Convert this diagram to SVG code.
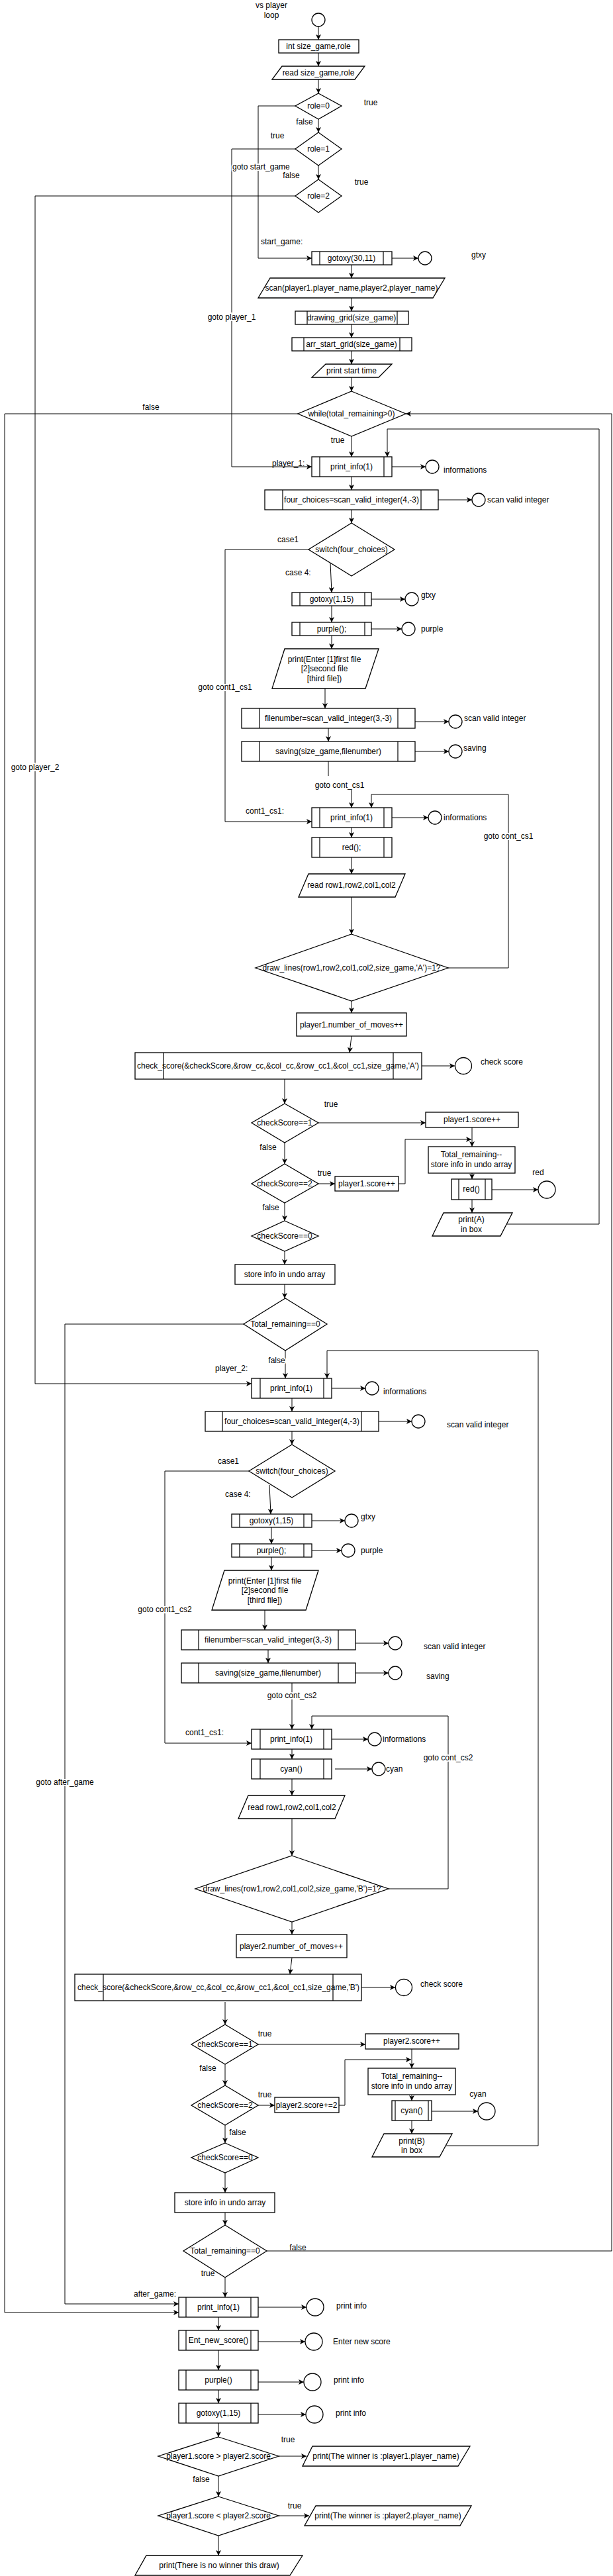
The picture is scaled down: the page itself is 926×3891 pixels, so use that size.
<svg xmlns="http://www.w3.org/2000/svg" width="926" height="3891" viewBox="0 0 926 3891">
<style>
.s{fill:#fff;stroke:#000;stroke-width:1.3}
.i{fill:none;stroke:#000;stroke-width:1.2}
.l{fill:none;stroke:#000;stroke-width:1}
.a{marker-end:url(#arr)}
text{font-family:"Liberation Sans",Arial,sans-serif;font-size:12px;fill:#000;dominant-baseline:central}
.c{text-anchor:middle}
.h{paint-order:stroke;stroke:#fff;stroke-width:4px}
</style>
<defs>
<marker id="arr" markerUnits="userSpaceOnUse" markerWidth="9" markerHeight="8" refX="8" refY="4" orient="auto">
<path d="M0,0 L8,4 L0,8 L2,4 Z" fill="#000"/>
</marker>
</defs>
<rect width="926" height="3891" fill="#fff"/>
<g id="connectors">
<path class="l a" d="M481,40 V60"/>
<path class="l a" d="M481,80 V100"/>
<path class="l a" d="M481,120 V141"/>
<path class="l a" d="M481,180 V200"/>
<path class="l a" d="M481,250 V271"/>
<path class="l a" d="M446,160 H390 V390 H471"/>
<path class="l a" d="M446,225 H350 V705 H471"/>
<path class="l a" d="M446,296 H53 V2090 H380"/>
<path class="l a" d="M592,390 H632"/>
<path class="l a" d="M531,400 V420"/>
<path class="l a" d="M531,450 V470"/>
<path class="l a" d="M531,490 V510"/>
<path class="l a" d="M531,530 V550"/>
<path class="l a" d="M531,570 V591"/>
<path class="l a" d="M450,625 H7 V3493 H270"/>
<path class="l a" d="M403,3400 H924 V625 H613"/>
<path class="l a" d="M531,659 V690"/>
<path class="l a" d="M765,1849 H905 V648 H585 V690"/>
<path class="l a" d="M592,705 H643"/>
<path class="l a" d="M531,720 V740"/>
<path class="l a" d="M662,755 H713"/>
<path class="l a" d="M531,770 V790"/>
<path class="l a" d="M466,830 H340 V1241 H471"/>
<path class="l a" d="M499,850 L501,895"/>
<path class="l a" d="M561,905 H612"/>
<path class="l a" d="M501,915 V940"/>
<path class="l a" d="M561,950 H607"/>
<path class="l a" d="M501,960 V980"/>
<path class="l a" d="M491,1040 V1070"/>
<path class="l a" d="M627,1090 H678"/>
<path class="l a" d="M496,1100 V1120"/>
<path class="l a" d="M627,1135 H678"/>
<path class="l" d="M496,1150 V1172"/>
<path class="l a" d="M531,1193 V1220"/>
<path class="l a" d="M677,1462 H768 V1200 H561 V1220"/>
<path class="l a" d="M592,1235 H647"/>
<path class="l a" d="M531,1250 V1265"/>
<path class="l a" d="M531,1295 V1320"/>
<path class="l a" d="M531,1355 V1411"/>
<path class="l a" d="M531,1512 V1530"/>
<path class="l a" d="M531,1565 L528,1590"/>
<path class="l a" d="M637,1610 H687"/>
<path class="l a" d="M430,1630 V1667"/>
<path class="l a" d="M481,1696 H643"/>
<path class="l a" d="M430,1726 V1758"/>
<path class="l a" d="M481,1788 H506"/>
<path class="l a" d="M602,1788 H612 V1721 H712"/>
<path class="l a" d="M713,1703 V1732"/>
<path class="l a" d="M713,1772 V1781"/>
<path class="l a" d="M743,1797 H813"/>
<path class="l a" d="M713,1812 V1832"/>
<path class="l a" d="M430,1817 V1844"/>
<path class="l a" d="M430,1890 V1910"/>
<path class="l a" d="M430,1940 V1961"/>
<path class="l a" d="M368,2000 H98 V3480 H270"/>
<path class="l a" d="M431,2040 V2082"/>
<path class="l a" d="M673,3241 H813 V2040 H494 V2082"/>
<path class="l a" d="M501,2097 H552"/>
<path class="l a" d="M441,2112 V2132"/>
<path class="l a" d="M572,2147 H622"/>
<path class="l a" d="M441,2162 V2182"/>
<path class="l a" d="M376,2222 H249 V2633 H380"/>
<path class="l a" d="M407,2243 L409,2287"/>
<path class="l a" d="M471,2297 H521"/>
<path class="l a" d="M410,2307 V2332"/>
<path class="l a" d="M471,2342 H516"/>
<path class="l a" d="M410,2352 V2372"/>
<path class="l a" d="M400,2432 V2462"/>
<path class="l a" d="M537,2482 H587"/>
<path class="l a" d="M405,2492 V2512"/>
<path class="l a" d="M537,2527 H587"/>
<path class="l a" d="M441,2542 V2612"/>
<path class="l a" d="M587,2853 H677 V2592 H471 V2612"/>
<path class="l a" d="M501,2627 H556"/>
<path class="l a" d="M441,2642 V2657"/>
<path class="l a" d="M506,2672 H562"/>
<path class="l a" d="M441,2687 V2712"/>
<path class="l a" d="M441,2747 V2803"/>
<path class="l a" d="M441,2903 V2922"/>
<path class="l a" d="M441,2957 L438,2982"/>
<path class="l a" d="M546,3002 H597"/>
<path class="l a" d="M340,3024 V3058"/>
<path class="l a" d="M390,3088 H552"/>
<path class="l a" d="M340,3118 V3150"/>
<path class="l a" d="M390,3180 H415"/>
<path class="l a" d="M512,3180 H521 V3111 H621"/>
<path class="l a" d="M622,3095 V3124"/>
<path class="l a" d="M622,3164 V3173"/>
<path class="l a" d="M652,3189 H722"/>
<path class="l a" d="M622,3203 V3223"/>
<path class="l a" d="M340,3210 V3237"/>
<path class="l a" d="M340,3282 V3312"/>
<path class="l a" d="M340,3342 V3361"/>
<path class="l a" d="M340,3440 V3470"/>
<path class="l a" d="M390,3485 H463"/>
<path class="l a" d="M330,3500 V3520"/>
<path class="l a" d="M390,3537 H461"/>
<path class="l a" d="M330,3550 V3580"/>
<path class="l a" d="M390,3598 H459"/>
<path class="l a" d="M330,3610 V3630"/>
<path class="l a" d="M390,3647 H462"/>
<path class="l a" d="M330,3660 V3681"/>
<path class="l a" d="M421,3710 H463"/>
<path class="l a" d="M330,3740 V3771"/>
<path class="l a" d="M421,3800 H467"/>
<path class="l a" d="M330,3830 V3860"/>
</g>
<g id="labels">
<text class="c" x="410" y="8">vs player</text>
<text class="c" x="410" y="23">loop</text>
<text class="c" x="560" y="155">true</text>
<text class="c" x="460" y="184">false</text>
<text class="c" x="419" y="205">true</text>
<text class="h" x="351" y="252">goto start_game</text>
<text class="c" x="440" y="265">false</text>
<text class="c" x="546" y="275">true</text>
<text x="394" y="365">start_game:</text>
<text x="712" y="385">gtxy</text>
<text class="c h" x="350" y="479">goto player_1</text>
<text class="c" x="228" y="615">false</text>
<text class="c" x="510" y="665">true</text>
<text x="411" y="700">player_1:</text>
<text x="670" y="710">informations</text>
<text x="736" y="755">scan valid integer</text>
<text class="c" x="435" y="815">case1</text>
<text x="431" y="865">case 4:</text>
<text x="636" y="899">gtxy</text>
<text x="636" y="950">purple</text>
<text class="c h" x="340" y="1038">goto cont1_cs1</text>
<text x="701" y="1085">scan valid integer</text>
<text x="700" y="1130">saving</text>
<text class="c h" x="53" y="1159">goto player_2</text>
<text class="c" x="513" y="1186">goto cont_cs1</text>
<text x="371" y="1225">cont1_cs1:</text>
<text x="670" y="1235">informations</text>
<text class="c h" x="768" y="1263">goto cont_cs1</text>
<text x="726" y="1604">check score</text>
<text class="c" x="500" y="1668">true</text>
<text class="c" x="405" y="1733">false</text>
<text class="c" x="490" y="1772">true</text>
<text class="c" x="813" y="1771">red</text>
<text class="c" x="409" y="1824">false</text>
<text class="c h" x="418" y="2055">false</text>
<text x="325" y="2067">player_2:</text>
<text x="579" y="2102">informations</text>
<text x="675" y="2152">scan valid integer</text>
<text x="329" y="2207">case1</text>
<text x="340" y="2257">case 4:</text>
<text x="545" y="2291">gtxy</text>
<text x="545" y="2342">purple</text>
<text class="c h" x="249" y="2431">goto cont1_cs2</text>
<text x="640" y="2487">scan valid integer</text>
<text x="644" y="2532">saving</text>
<text class="c h" x="441" y="2561">goto cont_cs2</text>
<text x="280" y="2617">cont1_cs1:</text>
<text x="578" y="2627">informations</text>
<text class="c h" x="677" y="2655">goto cont_cs2</text>
<text x="583" y="2672">cyan</text>
<text class="c h" x="98" y="2692">goto after_game</text>
<text x="635" y="2997">check score</text>
<text class="c" x="400" y="3072">true</text>
<text class="c" x="314" y="3124">false</text>
<text class="c" x="400" y="3164">true</text>
<text class="c" x="722" y="3163">cyan</text>
<text class="c" x="359" y="3221">false</text>
<text class="c" x="450" y="3395">false</text>
<text class="c" x="314" y="3434">true</text>
<text x="202" y="3465">after_game:</text>
<text x="508" y="3483">print info</text>
<text x="503" y="3537">Enter new score</text>
<text x="504" y="3595">print info</text>
<text x="507" y="3645">print info</text>
<text class="c" x="435" y="3685">true</text>
<text class="c" x="304" y="3745">false</text>
<text class="c" x="445" y="3785">true</text>
</g>
<g id="start"><circle class="s" cx="481" cy="30" r="10"/></g>
<g id="n_int"><rect class="s" x="421" y="60" width="121" height="20"/><text class="c" x="481" y="70">int size_game,role</text></g>
<g id="n_read"><polygon class="s" points="426,100 551,100 536,120 411,120"/><text class="c" x="481" y="110">read size_game,role</text></g>
<g id="d_role0"><polygon class="s" points="481,141 516,160 481,180 446,160"/><text class="c" x="481" y="160">role=0</text></g>
<g id="d_role1"><polygon class="s" points="481,200 516,225 481,250 446,225"/><text class="c" x="481" y="225">role=1</text></g>
<g id="d_role2"><polygon class="s" points="481,271 516,296 481,321 446,296"/><text class="c" x="481" y="296">role=2</text></g>
<g id="p_gotoxy30"><rect class="s" x="471" y="380" width="121" height="20"/><path class="i" d="M483,380 V400 M579,380 V400"/><text class="c" x="531" y="390">gotoxy(30,11)</text></g>
<g id="c_gtxy1"><circle class="s" cx="642" cy="390" r="10"/></g>
<g id="n_scan"><polygon class="s" points="408,420 672,420 654,450 390,450"/><text class="c" x="531" y="435">scan(player1.player_name,player2,player_name)</text></g>
<g id="p_drawgrid"><rect class="s" x="446" y="470" width="171" height="20"/><path class="i" d="M464,470 V490 M600,470 V490"/><text class="c" x="531" y="480">drawing_grid(size_game)</text></g>
<g id="p_arrgrid"><rect class="s" x="441" y="510" width="181" height="20"/><path class="i" d="M459,510 V530 M604,510 V530"/><text class="c" x="531" y="520">arr_start_grid(size_game)</text></g>
<g id="n_starttime"><polygon class="s" points="492,550 592,550 572,570 471,570"/><text class="c" x="531" y="560">print start time</text></g>
<g id="d_while"><polygon class="s" points="531,591 613,625 531,659 450,625"/><text class="c" x="531" y="625">while(total_remaining&gt;0)</text></g>
<g id="p1_info"><rect class="s" x="471" y="690" width="121" height="30"/><path class="i" d="M483,690 V720 M580,690 V720"/><text class="c" x="531" y="705">print_info(1)</text></g>
<g id="c_info1"><circle class="s" cx="653" cy="705" r="10"/></g>
<g id="p1_four"><rect class="s" x="400" y="740" width="262" height="30"/><path class="i" d="M427,740 V770 M636,740 V770"/><text class="c" x="531" y="755">four_choices=scan_valid_integer(4,-3)</text></g>
<g id="c_scan1"><circle class="s" cx="723" cy="755" r="10"/></g>
<g id="p1_switch"><polygon class="s" points="531,790 596,830 531,870 466,830"/><text class="c" x="531" y="830">switch(four_choices)</text></g>
<g id="p1_gotoxy"><rect class="s" x="441" y="895" width="120" height="20"/><path class="i" d="M453,895 V915 M551,895 V915"/><text class="c" x="501" y="905">gotoxy(1,15)</text></g>
<g id="c_gtxy2"><circle class="s" cx="622" cy="905" r="10"/></g>
<g id="p1_purple"><rect class="s" x="441" y="940" width="120" height="20"/><path class="i" d="M453,940 V960 M551,940 V960"/><text class="c" x="501" y="950">purple();</text></g>
<g id="c_purple1"><circle class="s" cx="617" cy="950" r="10"/></g>
<g id="p1_enter"><polygon class="s" points="430,980 572,980 552,1040 411,1040"/><text class="c" x="490" y="996">print(Enter [1]first file</text><text class="c" x="490" y="1010">[2]second file</text><text class="c" x="490" y="1025">[third file])</text></g>
<g id="p1_filenum"><rect class="s" x="365" y="1070" width="262" height="30"/><path class="i" d="M392,1070 V1100 M601,1070 V1100"/><text class="c" x="496" y="1085">filenumber=scan_valid_integer(3,-3)</text></g>
<g id="c_scan2"><circle class="s" cx="688" cy="1090" r="10"/></g>
<g id="p1_saving"><rect class="s" x="365" y="1120" width="262" height="30"/><path class="i" d="M392,1120 V1150 M601,1120 V1150"/><text class="c" x="496" y="1135">saving(size_game,filenumber)</text></g>
<g id="c_saving1"><circle class="s" cx="688" cy="1135" r="10"/></g>
<g id="p1_info2"><rect class="s" x="471" y="1220" width="121" height="30"/><path class="i" d="M483,1220 V1250 M580,1220 V1250"/><text class="c" x="531" y="1235">print_info(1)</text></g>
<g id="c_info2"><circle class="s" cx="657" cy="1235" r="10"/></g>
<g id="p1_red"><rect class="s" x="471" y="1265" width="121" height="30"/><path class="i" d="M483,1265 V1295 M580,1265 V1295"/><text class="c" x="531" y="1280">red();</text></g>
<g id="p1_readrow"><polygon class="s" points="466,1320 612,1320 597,1355 451,1355"/><text class="c" x="531" y="1337">read row1,row2,col1,col2</text></g>
<g id="p1_draw"><polygon class="s" points="531,1411 677,1462 531,1512 386,1462"/><text class="c" x="531" y="1462">draw_lines(row1,row2,col1,col2,size_game,'A')=1?</text></g>
<g id="p1_moves"><rect class="s" x="448" y="1530" width="166" height="35"/><text class="c" x="531" y="1548">player1.number_of_moves++</text></g>
<g id="p1_check"><rect class="s" x="204" y="1590" width="433" height="40"/><path class="i" d="M247,1590 V1630 M594,1590 V1630"/><text class="c" x="420" y="1610">check_score(&amp;checkScore,&amp;row_cc,&amp;col_cc,&amp;row_cc1,&amp;col_cc1,size_game,'A')</text></g>
<g id="c_check1"><circle class="s" cx="700" cy="1610" r="12.5"/></g>
<g id="p1_cs1"><polygon class="s" points="430,1667 481,1696 430,1726 380,1696"/><text class="c" x="430" y="1696">checkScore==1</text></g>
<g id="p1_score1"><rect class="s" x="643" y="1680" width="140" height="23"/><text class="c" x="713" y="1691">player1.score++</text></g>
<g id="p1_cs2"><polygon class="s" points="430,1758 481,1788 430,1817 380,1788"/><text class="c" x="430" y="1788">checkScore==2</text></g>
<g id="p1_score2"><rect class="s" x="506" y="1777" width="96" height="22"/><text class="c" x="554" y="1788">player1.score++</text></g>
<g id="p1_total"><rect class="s" x="647" y="1732" width="131" height="40"/><text class="c" x="712" y="1744">Total_remaining--</text><text class="c" x="712" y="1759">store info in undo array</text></g>
<g id="p1_red2"><rect class="s" x="682" y="1781" width="61" height="31"/><path class="i" d="M693,1781 V1812 M733,1781 V1812"/><text class="c" x="712" y="1796">red()</text></g>
<g id="c_red"><circle class="s" cx="826" cy="1797" r="13"/></g>
<g id="p1_printA"><polygon class="s" points="670,1832 774,1832 756,1867 653,1867"/><text class="c" x="712" y="1842">print(A)</text><text class="c" x="712" y="1857">in box</text></g>
<g id="p1_cs0"><polygon class="s" points="430,1844 481,1867 430,1890 380,1867"/><text class="c" x="430" y="1867">checkScore==0</text></g>
<g id="p1_store"><rect class="s" x="355" y="1910" width="151" height="30"/><text class="c" x="430" y="1925">store info in undo array</text></g>
<g id="p1_tr0"><polygon class="s" points="431,1961 494,2000 431,2040 368,2000"/><text class="c" x="431" y="2000">Total_remaining==0</text></g>
<g id="p2_info"><rect class="s" x="380" y="2082" width="121" height="30"/><path class="i" d="M393,2082 V2112 M489,2082 V2112"/><text class="c" x="440" y="2097">print_info(1)</text></g>
<g id="c_info3"><circle class="s" cx="562" cy="2097" r="10"/></g>
<g id="p2_four"><rect class="s" x="310" y="2132" width="262" height="30"/><path class="i" d="M336,2132 V2162 M546,2132 V2162"/><text class="c" x="441" y="2147">four_choices=scan_valid_integer(4,-3)</text></g>
<g id="c_scan3"><circle class="s" cx="632" cy="2147" r="10"/></g>
<g id="p2_switch"><polygon class="s" points="441,2182 506,2222 441,2262 376,2222"/><text class="c" x="441" y="2222">switch(four_choices)</text></g>
<g id="p2_gotoxy"><rect class="s" x="350" y="2287" width="121" height="20"/><path class="i" d="M362,2287 V2307 M459,2287 V2307"/><text class="c" x="410" y="2297">gotoxy(1,15)</text></g>
<g id="c_gtxy3"><circle class="s" cx="531" cy="2297" r="10"/></g>
<g id="p2_purple"><rect class="s" x="350" y="2332" width="121" height="20"/><path class="i" d="M362,2332 V2352 M459,2332 V2352"/><text class="c" x="410" y="2342">purple();</text></g>
<g id="c_purple2"><circle class="s" cx="526" cy="2342" r="10"/></g>
<g id="p2_enter"><polygon class="s" points="339,2372 481,2372 462,2432 320,2432"/><text class="c" x="400" y="2388">print(Enter [1]first file</text><text class="c" x="400" y="2402">[2]second file</text><text class="c" x="400" y="2417">[third file])</text></g>
<g id="p2_filenum"><rect class="s" x="274" y="2462" width="263" height="30"/><path class="i" d="M300,2462 V2492 M511,2462 V2492"/><text class="c" x="405" y="2477">filenumber=scan_valid_integer(3,-3)</text></g>
<g id="c_scan4"><circle class="s" cx="597" cy="2482" r="10"/></g>
<g id="p2_saving"><rect class="s" x="274" y="2512" width="263" height="30"/><path class="i" d="M300,2512 V2542 M511,2512 V2542"/><text class="c" x="405" y="2527">saving(size_game,filenumber)</text></g>
<g id="c_saving2"><circle class="s" cx="597" cy="2527" r="10"/></g>
<g id="p2_info2"><rect class="s" x="380" y="2612" width="121" height="30"/><path class="i" d="M393,2612 V2642 M489,2612 V2642"/><text class="c" x="440" y="2627">print_info(1)</text></g>
<g id="c_info4"><circle class="s" cx="566" cy="2627" r="10"/></g>
<g id="p2_cyan"><rect class="s" x="380" y="2657" width="121" height="30"/><path class="i" d="M393,2657 V2687 M489,2657 V2687"/><text class="c" x="440" y="2672">cyan()</text></g>
<g id="c_cyan1"><circle class="s" cx="572" cy="2672" r="10"/></g>
<g id="p2_readrow"><polygon class="s" points="375,2712 521,2712 506,2747 360,2747"/><text class="c" x="441" y="2730">read row1,row2,col1,col2</text></g>
<g id="p2_draw"><polygon class="s" points="441,2803 587,2853 441,2903 295,2853"/><text class="c" x="441" y="2853">draw_lines(row1,row2,col1,col2,size_game,'B')=1?</text></g>
<g id="p2_moves"><rect class="s" x="357" y="2922" width="167" height="35"/><text class="c" x="440" y="2940">player2.number_of_moves++</text></g>
<g id="p2_check"><rect class="s" x="113" y="2982" width="433" height="40"/><path class="i" d="M156,2982 V3022 M503,2982 V3022"/><text class="c" x="330" y="3002">check_score(&amp;checkScore,&amp;row_cc,&amp;col_cc,&amp;row_cc1,&amp;col_cc1,size_game,'B')</text></g>
<g id="c_check2"><circle class="s" cx="610" cy="3002" r="12.5"/></g>
<g id="p2_cs1"><polygon class="s" points="340,3058 390,3088 340,3118 289,3088"/><text class="c" x="340" y="3088">checkScore==1</text></g>
<g id="p2_score1"><rect class="s" x="552" y="3072" width="141" height="23"/><text class="c" x="622" y="3083">player2.score++</text></g>
<g id="p2_cs2"><polygon class="s" points="340,3150 390,3180 340,3210 289,3180"/><text class="c" x="340" y="3180">checkScore==2</text></g>
<g id="p2_score2"><rect class="s" x="415" y="3168" width="97" height="23"/><text class="c" x="463" y="3180">player2.score+=2</text></g>
<g id="p2_total"><rect class="s" x="556" y="3124" width="132" height="40"/><text class="c" x="622" y="3136">Total_remaining--</text><text class="c" x="622" y="3151">store info in undo array</text></g>
<g id="p2_cyan2"><rect class="s" x="592" y="3173" width="60" height="30"/><path class="i" d="M597,3173 V3203 M647,3173 V3203"/><text class="c" x="622" y="3188">cyan()</text></g>
<g id="c_cyan2"><circle class="s" cx="735" cy="3189" r="13"/></g>
<g id="p2_printB"><polygon class="s" points="580,3223 683,3223 664,3258 562,3258"/><text class="c" x="622" y="3234">print(B)</text><text class="c" x="622" y="3248">in box</text></g>
<g id="p2_cs0"><polygon class="s" points="340,3237 390,3259 340,3282 289,3259"/><text class="c" x="340" y="3259">checkScore==0</text></g>
<g id="p2_store"><rect class="s" x="264" y="3312" width="151" height="30"/><text class="c" x="340" y="3327">store info in undo array</text></g>
<g id="p2_tr0"><polygon class="s" points="340,3361 403,3400 340,3440 277,3400"/><text class="c" x="340" y="3400">Total_remaining==0</text></g>
<g id="e_info"><rect class="s" x="270" y="3470" width="120" height="30"/><path class="i" d="M281,3470 V3500 M379,3470 V3500"/><text class="c" x="330" y="3485">print_info(1)</text></g>
<g id="c_e1"><circle class="s" cx="476" cy="3485" r="13"/></g>
<g id="e_ent"><rect class="s" x="270" y="3520" width="120" height="30"/><path class="i" d="M281,3520 V3550 M379,3520 V3550"/><text class="c" x="330" y="3535">Ent_new_score()</text></g>
<g id="c_e2"><circle class="s" cx="474" cy="3537" r="13"/></g>
<g id="e_purple"><rect class="s" x="270" y="3580" width="120" height="30"/><path class="i" d="M281,3580 V3610 M379,3580 V3610"/><text class="c" x="330" y="3595">purple()</text></g>
<g id="c_e3"><circle class="s" cx="472" cy="3598" r="13"/></g>
<g id="e_gotoxy"><rect class="s" x="270" y="3630" width="120" height="30"/><path class="i" d="M281,3630 V3660 M379,3630 V3660"/><text class="c" x="330" y="3645">gotoxy(1,15)</text></g>
<g id="c_e4"><circle class="s" cx="475" cy="3647" r="13"/></g>
<g id="e_cmp1"><polygon class="s" points="330,3681 421,3710 330,3740 239,3710"/><text class="c" x="330" y="3710">player1.score &gt; player2.score</text></g>
<g id="e_win1"><polygon class="s" points="472,3695 710,3695 692,3725 457,3725"/><text class="c" x="583" y="3710">print(The winner is :player1.player_name)</text></g>
<g id="e_cmp2"><polygon class="s" points="330,3771 421,3800 330,3830 239,3800"/><text class="c" x="330" y="3800">player1.score &lt; player2.score</text></g>
<g id="e_win2"><polygon class="s" points="477,3785 712,3785 695,3815 460,3815"/><text class="c" x="586" y="3800">print(The winner is :player2.player_name)</text></g>
<g id="e_draw"><polygon class="s" points="221,3860 457,3860 438,3890 204,3890"/><text class="c" x="331" y="3875">print(There is no winner this draw)</text></g>
</svg>
